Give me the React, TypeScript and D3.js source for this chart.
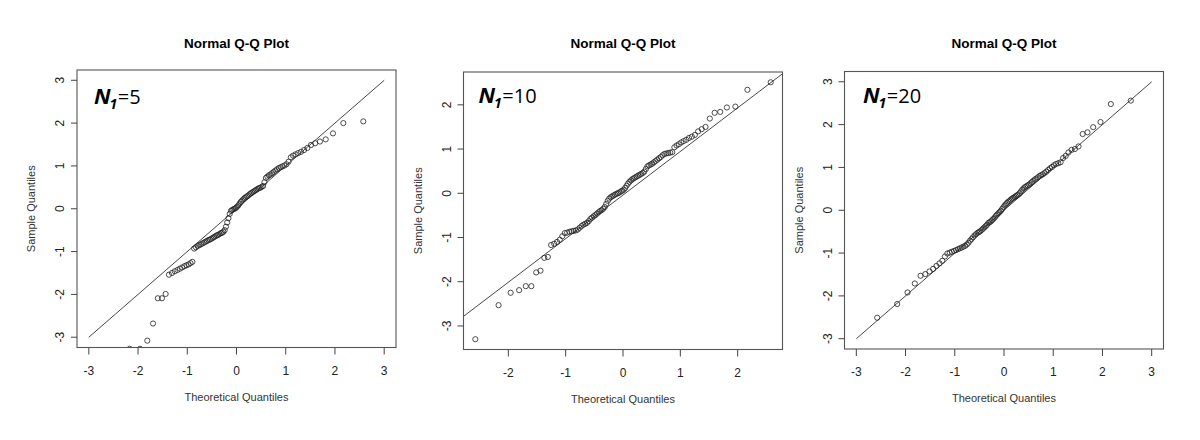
import React from 'react';
import * as d3 from 'd3';

// ---------- data (sorted sample values, n = 100 each) ----------
const panelN1 = ['5', '10', '20'];

const sampleN5 = [
  -3.6, -3.27, -3.27, -3.08, -2.68, -2.09, -2.09, -1.99, -1.54, -1.5,
  -1.46, -1.43, -1.4, -1.37, -1.34, -1.32, -1.3, -1.27, -1.24, -0.93,
  -0.9, -0.87, -0.85, -0.83, -0.81, -0.79, -0.77, -0.75, -0.73, -0.72,
  -0.7, -0.68, -0.66, -0.64, -0.62, -0.61, -0.59, -0.57, -0.56, -0.54,
  -0.5, -0.42, -0.32, -0.22, -0.12, -0.05, -0.03, -0.01, 0.0, 0.02,
  0.05, 0.08, 0.12, 0.16, 0.19, 0.22, 0.25, 0.27, 0.29, 0.31,
  0.34, 0.36, 0.38, 0.4, 0.42, 0.44, 0.46, 0.48, 0.49, 0.51,
  0.53, 0.62, 0.72, 0.75, 0.78, 0.8, 0.83, 0.86, 0.89, 0.92,
  0.95, 0.97, 0.99, 1.01, 1.04, 1.1, 1.2, 1.24, 1.27, 1.3,
  1.33, 1.37, 1.42, 1.49, 1.53, 1.57, 1.62, 1.76, 2.0, 2.04,
];

const sampleN10 = [
  -3.3, -2.53, -2.25, -2.19, -2.1, -2.1, -1.79, -1.75, -1.46, -1.44,
  -1.17, -1.14, -1.1, -1.05, -0.97, -0.9, -0.89, -0.87, -0.86, -0.85,
  -0.84, -0.82, -0.78, -0.74, -0.71, -0.69, -0.67, -0.63, -0.58, -0.55,
  -0.52, -0.49, -0.46, -0.43, -0.4, -0.38, -0.35, -0.31, -0.24, -0.17,
  -0.12, -0.09, -0.07, -0.05, -0.03, -0.01, 0.0, 0.02, 0.04, 0.06,
  0.08, 0.12, 0.17, 0.22, 0.26, 0.29, 0.32, 0.34, 0.36, 0.38,
  0.4, 0.42, 0.44, 0.46, 0.49, 0.55, 0.61, 0.63, 0.65, 0.67,
  0.7, 0.73, 0.76, 0.79, 0.82, 0.86, 0.89, 0.9, 0.91, 0.92,
  0.93, 1.04, 1.08, 1.11, 1.15, 1.18, 1.21, 1.25, 1.28, 1.32,
  1.4, 1.45, 1.5, 1.69, 1.82, 1.84, 1.94, 1.96, 2.34, 2.51,
];

const sampleN20 = [
  -2.51, -2.19, -1.92, -1.71, -1.53, -1.49, -1.43, -1.37, -1.3, -1.24,
  -1.18, -1.08, -1.01, -0.99, -0.97, -0.95, -0.93, -0.91, -0.89, -0.87,
  -0.85, -0.83, -0.8, -0.76, -0.71, -0.67, -0.63, -0.59, -0.56, -0.53,
  -0.51, -0.49, -0.46, -0.43, -0.4, -0.37, -0.34, -0.3, -0.28, -0.26,
  -0.23, -0.2, -0.17, -0.13, -0.1, -0.07, -0.04, -0.01, 0.03, 0.07,
  0.11, 0.14, 0.17, 0.2, 0.22, 0.25, 0.27, 0.29, 0.31, 0.33,
  0.35, 0.37, 0.4, 0.44, 0.48, 0.51, 0.54, 0.56, 0.58, 0.6,
  0.63, 0.66, 0.69, 0.72, 0.74, 0.77, 0.8, 0.82, 0.84, 0.87,
  0.9, 0.94, 0.98, 1.01, 1.05, 1.08, 1.1, 1.12, 1.22, 1.27,
  1.35, 1.41, 1.43, 1.49, 1.78, 1.82, 1.94, 2.06, 2.48, 2.56,
];

const ticksWide = [-3, -2, -1, 0, 1, 2, 3];
const ticksXNarrow = [-2, -1, 0, 1, 2];
const ticksYNarrow = [-3, -2, -1, 0, 1, 2];

// axis limits requested (null = from data)
const xLimits: ([number, number] | null)[] = [[-3, 3], null, [-3, 3]];
const yLimits: ([number, number] | null)[] = [[-3, 3], null, [-3, 3]];

// reference lines
const refIntercepts = [0, -0.04, 0];
const refSlopes = [1, 0.986, 1];
const refSpans: ([number, number] | null)[] = [[-3, 3], null, [-3, 3]];

const titleText = 'Normal Q-Q Plot';
const xLabelText = 'Theoretical Quantiles';
const yLabelText = 'Sample Quantiles';

// ---------- layout ----------
const W = 1200;
const H = 440;
const boxLefts = [77, 463.5, 844.5];
const boxTops = [70, 72, 71.5];
const boxW = 319;
const boxH = 277.5;
const nLabelOffsets = [
  [17, 34],
  [15, 30.5],
  [18.5, 31],
];

// inverse normal CDF (Acklam) for theoretical quantiles
function qnorm(p: number): number {
  const a = [-3.969683028665376e1, 2.209460984245205e2, -2.759285104469687e2, 1.38357751867269e2, -3.066479806614716e1, 2.506628277459239];
  const b = [-5.447609879822406e1, 1.615858368580409e2, -1.556989798598866e2, 6.680131188771972e1, -1.328068155288572e1];
  const c = [-7.784894002430293e-3, -3.223964580411365e-1, -2.400758277161838, -2.549732539343734, 4.374664141464968, 2.938163982698783];
  const d = [7.784695709041462e-3, 3.224671290700398e-1, 2.445134137142996, 3.754408661907416];
  const pl = 0.02425;
  if (p < pl) {
    const q = Math.sqrt(-2 * Math.log(p));
    return (((((c[0] * q + c[1]) * q + c[2]) * q + c[3]) * q + c[4]) * q + c[5]) / ((((d[0] * q + d[1]) * q + d[2]) * q + d[3]) * q + 1);
  }
  if (p <= 1 - pl) {
    const q = p - 0.5;
    const r = q * q;
    return ((((((a[0] * r + a[1]) * r + a[2]) * r + a[3]) * r + a[4]) * r + a[5]) * q) / (((((b[0] * r + b[1]) * r + b[2]) * r + b[3]) * r + b[4]) * r + 1);
  }
  const q = Math.sqrt(-2 * Math.log(1 - p));
  return -(((((c[0] * q + c[1]) * q + c[2]) * q + c[3]) * q + c[4]) * q + c[5]) / ((((d[0] * q + d[1]) * q + d[2]) * q + d[3]) * q + 1);
}

function extendRange(lo: number, hi: number): [number, number] {
  const e = (hi - lo) * 0.04;
  return [lo - e, hi + e];
}

const samples = [sampleN5, sampleN10, sampleN20];
const xTickSets = [ticksWide, ticksXNarrow, ticksWide];
const yTickSets = [ticksWide, ticksYNarrow, ticksWide];

const TICK_FONT = '"Liberation Sans", Arial, sans-serif';

function Panel({ idx }: { idx: number }) {
  const sample = samples[idx];
  const n = sample.length;
  const pts = sample.map((v, i) => ({ tq: qnorm((i + 0.5) / n), sq: v }));
  const xExt = xLimits[idx] ?? (d3.extent(pts, (p) => p.tq) as [number, number]);
  const yExt = yLimits[idx] ?? (d3.extent(pts, (p) => p.sq) as [number, number]);
  const left = boxLefts[idx];
  const top = boxTops[idx];
  const x = d3.scaleLinear().domain(extendRange(xExt[0], xExt[1])).range([left, left + boxW]);
  const y = d3.scaleLinear().domain(extendRange(yExt[0], yExt[1])).range([top + boxH, top]);
  const span = refSpans[idx] ?? (x.domain() as [number, number]);
  const a = refIntercepts[idx];
  const b = refSlopes[idx];
  const lineGen = d3
    .line<number>()
    .x((t) => x(t))
    .y((t) => y(a + b * t));
  const clipId = `clip-${idx}`;
  const cx = left + boxW / 2;
  const cy = top + boxH / 2;
  const [ndx, ndy] = nLabelOffsets[idx];
  return (
    <g>
      <defs>
        <clipPath id={clipId}>
          <rect x={left} y={top} width={boxW} height={boxH} />
        </clipPath>
      </defs>
      <text x={cx} y={48} textAnchor="middle" fontFamily={TICK_FONT} fontWeight="bold" fontSize={13.5} fill="#000">
        {titleText}
      </text>
      <g clipPath={`url(#${clipId})`}>
        <path d={lineGen(span) ?? ''} fill="none" stroke="#333" strokeWidth={0.9} />
        {pts.map((p, i) => (
          <circle key={i} cx={x(p.tq)} cy={y(p.sq)} r={2.6} fill="none" stroke="#222" strokeWidth={0.8} />
        ))}
      </g>
      <rect x={left} y={top} width={boxW} height={boxH} fill="none" stroke="#555" strokeWidth={1.1} />
      {xTickSets[idx].map((t) => (
        <g key={`xt${t}`}>
          <line x1={x(t)} x2={x(t)} y1={top + boxH} y2={top + boxH + 7} stroke="#444" strokeWidth={1} />
          <text x={x(t)} y={top + boxH + 27} textAnchor="middle" fontFamily={TICK_FONT} fontSize={12} fill="#222">
            {t < 0 ? `-${Math.abs(t)}` : `${t}`}
          </text>
        </g>
      ))}
      {yTickSets[idx].map((t) => (
        <g key={`yt${t}`}>
          <line x1={left - 6} x2={left} y1={y(t)} y2={y(t)} stroke="#444" strokeWidth={1} />
          <text
            transform={`translate(${left - 13},${y(t)}) rotate(-90)`}
            textAnchor="middle"
            fontFamily={TICK_FONT}
            fontSize={12}
            fill="#222"
          >
            {t < 0 ? `-${Math.abs(t)}` : `${t}`}
          </text>
        </g>
      ))}
      <text x={cx} y={top + boxH + 53} textAnchor="middle" fontFamily={TICK_FONT} fontSize={11} fill="#333">
        {xLabelText}
      </text>
      <text
        transform={`translate(${left - 42},${cy}) rotate(-90)`}
        textAnchor="middle"
        fontFamily={TICK_FONT}
        fontSize={11}
        fill="#333"
      >
        {yLabelText}
      </text>
      <text x={left + ndx} y={top + ndy} fontFamily='"Open Sans", sans-serif' fill="#000">
        <tspan fontSize={22} fontStyle="italic" fontWeight="bold">N</tspan>
        <tspan fontSize={14} fontStyle="italic" fontWeight="bold" dy={5} dx={-1}>1</tspan>
        <tspan fontSize={20} dy={-5} dx={0.5}>={panelN1[idx]}</tspan>
      </text>
    </g>
  );
}

export default function App() {
  return (
    <svg
      width={W}
      height={H}
      viewBox={`0 0 ${W} ${H}`}
      style={{ position: 'absolute', left: 0, top: 0, background: '#fff' }}
    >
      <rect x={0} y={0} width={W} height={H} fill="#fff" />
      {[0, 1, 2].map((i) => (
        <Panel key={i} idx={i} />
      ))}
    </svg>
  );
}
